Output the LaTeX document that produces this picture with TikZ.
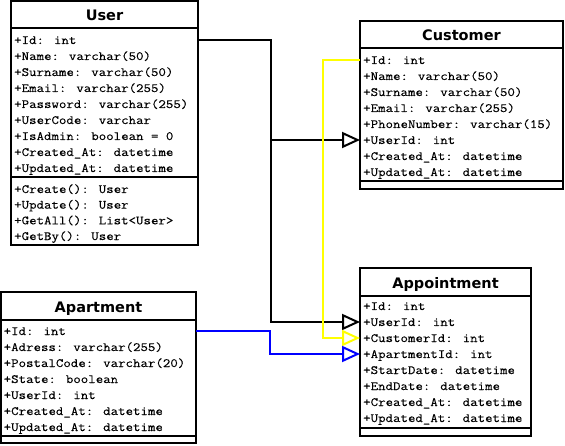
\documentclass[tikz,border=0pt]{standalone}
\usepackage{fontspec}
\newfontfamily\courfont{Latin Modern Mono}[FakeStretch=1.15,FakeBold=0.1]
\newfontfamily\hdrfont{DejaVu Sans}
\usetikzlibrary{arrows.meta}
\definecolor{lnyellow}{RGB}{255,255,0}
\definecolor{lnblue}{RGB}{0,0,255}
\begin{document}
\begin{tikzpicture}[x=1pt,y=-1pt,
  box/.style={draw=black, line width=2pt, fill=white, inner sep=0pt, outer sep=0pt, anchor=north west},
  sepline/.style={draw=black, line width=2pt},
  hdr/.style={font=\hdrfont\bfseries\fontsize{14.5}{16}\selectfont, inner sep=0pt, anchor=base},
  row/.style={font=\courfont\fontsize{12.6}{16}\selectfont, inner sep=0pt, anchor=west, text height=8pt, text depth=0pt},
  conn/.style={line width=2pt, -{Triangle[length=18pt,width=16pt,fill=white]}},
]
\useasboundingbox (0,0) rectangle (565,446);
% boxes
\node[box, minimum width=187pt, minimum height=244pt] (user) at (11,1) {};
\node[box, minimum width=203pt, minimum height=168pt] (customer) at (360,21) {};
\node[box, minimum width=171pt, minimum height=168pt] (appt) at (360,268) {};
\node[box, minimum width=195pt, minimum height=151pt] (apart) at (1,292) {};
% separators
\draw[sepline] (user.west |- 0,28) -- (user.east |- 0,28);
\draw[sepline] (user.west |- 0,177) -- (user.east |- 0,177);
\draw[sepline] (customer.west |- 0,48) -- (customer.east |- 0,48);
\draw[sepline] (customer.west |- 0,181) -- (customer.east |- 0,181);
\draw[sepline] (appt.west |- 0,296) -- (appt.east |- 0,296);
\draw[sepline] (appt.west |- 0,428) -- (appt.east |- 0,428);
\draw[sepline] (apart.west |- 0,320) -- (apart.east |- 0,320);
\draw[sepline] (apart.west |- 0,436) -- (apart.east |- 0,436);
% headers
\node[hdr] (userT) at (104.5,20.5) {User};
\node[hdr] (customerT) at (461.5,40.5) {Customer};
\node[hdr] (apptT) at (445.5,288.5) {Appointment};
\node[hdr] (apartT) at (98.5,312.5) {Apartment};
% rows
\foreach \t [count=\i] in {{+Id: int},{+Name: varchar(50)},{+Surname: varchar(50)},{+Email: varchar(255)},{+Password: varchar(255)},{+UserCode: varchar},{+IsAdmin: boolean = 0},{+Created\_At: datetime},{+Updated\_At: datetime}}
  \node[row] (u\i) at (14,{24+16*\i}) {\t};
\foreach \t [count=\i] in {{+Create(): User},{+Update(): User},{+GetAll(): List<User>},{+GetBy(): User}}
  \node[row] (um\i) at (14,{173.33+15.67*\i}) {\t};
\foreach \t [count=\i] in {{+Id: int},{+Name: varchar(50)},{+Surname: varchar(50)},{+Email: varchar(255)},{+PhoneNumber: varchar(15)},{+UserId: int},{+Created\_At: datetime},{+Updated\_At: datetime}}
  \node[row] (c\i) at (363,{44+16*\i}) {\t};
\foreach \t [count=\i] in {{+Id: int},{+UserId: int},{+CustomerId: int},{+ApartmentId: int},{+StartDate: datetime},{+EndDate: datetime},{+Created\_At: datetime},{+Updated\_At: datetime}}
  \node[row] (a\i) at (363,{290+16*\i}) {\t};
\foreach \t [count=\i] in {{+Id: int},{+Adress: varchar(255)},{+PostalCode: varchar(20)},{+State: boolean},{+UserId: int},{+Created\_At: datetime},{+Updated\_At: datetime}}
  \node[row] (p\i) at (3.5,{315+16*\i}) {\t};
% connectors
\coordinate (bk) at (271,0);
\coordinate (yl) at (323,0);
\coordinate (bl) at (270,0);
\draw[conn] (user.east |- u1) -- (bk |- u1) -- (bk |- a2) -- (appt.west |- a2);
\draw[conn] (bk |- c6) -- (customer.west |- c6);
\draw[conn, lnyellow] (customer.west |- c1) -- (yl |- c1) -- (yl |- a3) -- (appt.west |- a3);
\draw[conn, lnblue] (apart.east |- p1) -- (bl |- p1) -- (bl |- a4) -- (appt.west |- a4);
\end{tikzpicture}
\end{document}
